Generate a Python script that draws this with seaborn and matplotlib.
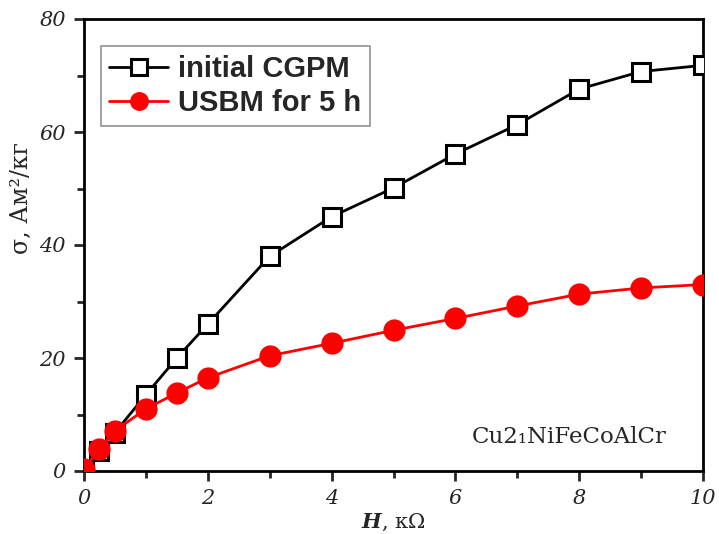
import matplotlib
matplotlib.use("Agg")
import matplotlib.pyplot as plt
import seaborn as sns
import numpy as np
from matplotlib.ticker import MultipleLocator

H = [0, 0.25, 0.5, 1, 1.5, 2, 3, 4, 5, 6, 7, 8, 9, 10]
sigma_initial = [0.0, 3.5, 6.8, 13.5, 20.0, 26.0, 38.0, 45.0, 50.1, 56.1, 61.3, 67.6, 70.7, 71.8]
sigma_usbm = [0.3, 3.9, 7.1, 11.0, 13.8, 16.5, 20.4, 22.6, 24.9, 27.0, 29.2, 31.3, 32.4, 33.0]
labels = ["initial CGPM", "USBM for 5 h"]

sns.set_style("ticks")
plt.rcParams['font.family'] = ['DejaVu Serif', 'Liberation Serif']
plt.rcParams['mathtext.fontset'] = 'custom'
plt.rcParams['mathtext.it'] = 'DejaVu Serif:italic:bold'
plt.rcParams['mathtext.rm'] = 'DejaVu Serif'

fig = plt.figure(figsize=(7.19, 5.34), dpi=100)
ax = fig.add_axes([84/719, 1-471/534, (703-84)/719, (471-19)/534])

sns.lineplot(x=H, y=sigma_initial, ax=ax, color='black', linewidth=2.0,
             marker='s', markersize=13, markerfacecolor='white',
             markeredgecolor='black', markeredgewidth=2.2, label=labels[0], zorder=3)
sns.lineplot(x=H, y=sigma_usbm, ax=ax, color='#ff0000', linewidth=2.0,
             marker='o', markersize=16, markerfacecolor='#ff0000',
             markeredgecolor='#ff0000', markeredgewidth=0, label=labels[1], zorder=4)

ax.set_xlim(0, 10)
ax.set_ylim(0, 80)
ax.xaxis.set_major_locator(MultipleLocator(2))
ax.xaxis.set_minor_locator(MultipleLocator(1))
ax.yaxis.set_major_locator(MultipleLocator(20))
ax.yaxis.set_minor_locator(MultipleLocator(10))
for s in ax.spines.values():
    s.set_linewidth(2.0)
    s.set_color('black')
ax.tick_params(which='major', direction='out', length=7, width=2.0, labelsize=15, pad=6)
ax.tick_params(which='minor', direction='out', length=5, width=2.0)
for lab in ax.get_xticklabels() + ax.get_yticklabels():
    lab.set_fontstyle('italic')

ax.set_xlabel('$H$, кΩ', fontsize=15, labelpad=3)
ax.set_ylabel('σ, Ам²/кг', fontsize=17)
ax.yaxis.set_label_coords(-0.082, 0.604)

ax.text(0.942, 0.075, 'Cu2₁NiFeCoAlCr', transform=ax.transAxes, ha='right', va='center', fontsize=16.5)

leg = ax.legend(loc='upper left', bbox_to_anchor=(0.027, 0.94), borderaxespad=0,
                frameon=True, fancybox=False, edgecolor='#777777', handlelength=2.0,
                handletextpad=0.35, borderpad=0.3, labelspacing=0.22, markerscale=0.85,
                prop={'family': 'Liberation Sans', 'weight': 'bold', 'size': 21})
leg.get_frame().set_linewidth(1.2)

fig.savefig('out.png', dpi=100, facecolor='white')
